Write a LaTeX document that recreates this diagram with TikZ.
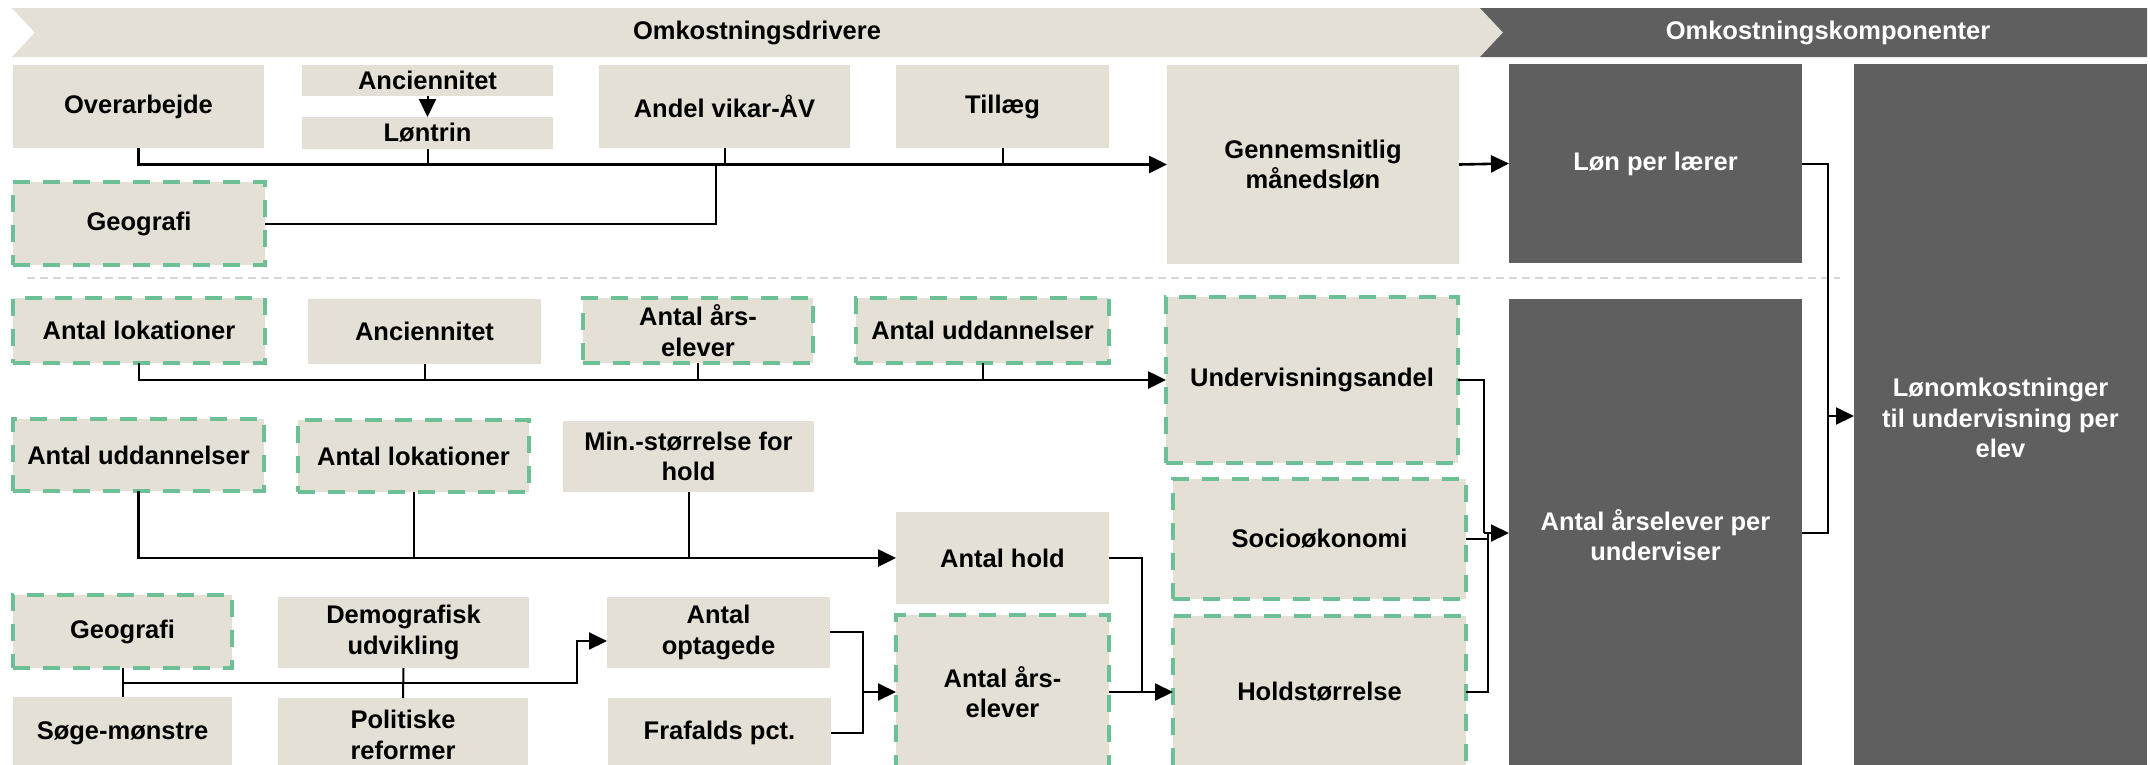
\documentclass[tikz,border=0pt]{standalone}
\usepackage{fontspec}
\setmainfont{Liberation Sans}
\usetikzlibrary{arrows.meta,calc}
\definecolor{beige}{HTML}{E4E0D6}
\definecolor{darkgr}{HTML}{5F5F5F}
\definecolor{greendash}{HTML}{6DBF95}
\definecolor{sepgrey}{HTML}{D6D6D6}
\newcommand{\mybox}[7]{\node[#6, minimum width={(#4-#2)*1pt}, minimum height={(#5-#3)*1pt}] (#1) at ({(#2+#4)/2},{(#3+#5)/2}) {#7};}
\begin{document}
\begin{tikzpicture}[x=1pt,y=-1pt,
  font=\fontsize{25.5pt}{30.5pt}\selectfont\bfseries,
  box/.style={rectangle, fill=beige, inner sep=0pt, outer sep=0pt, align=center, text=black},
  dbox/.style={box, draw=greendash, line width=4pt, dash pattern=on 17pt off 13pt},
  dark/.style={rectangle, fill=darkgr, inner sep=0pt, outer sep=0pt, align=center, text=white},
  conn/.style={draw=black, line width=2pt},
  mainc/.style={draw=black, line width=2.6pt},
  arr/.style={-{Triangle[length=18pt,width=17pt]}},
]
\clip (0,0) rectangle (2150,764);
\fill[white] (0,0) rectangle (2150,764);

% headers
\fill[beige] (12,8) -- (1480,8) -- (1503,32.5) -- (1480,57) -- (12,57) -- (35,32.5) -- cycle;
\fill[darkgr] (1480,8) -- (2147,8) -- (2147,57) -- (1480,57) -- (1503,32.5) -- cycle;
\node[text=black] (h1) at (757,33) {Omkostningsdrivere};
\node[text=white] (h2) at (1828,33) {Omkostningskomponenter};

% separator
\draw[sepgrey, line width=2pt, dash pattern=on 8pt off 5pt] (27,278) -- (1840,278);

% row 1
\mybox{over}{13}{65}{264}{148}{box}{Overarbejde}
\mybox{anca}{302}{65}{553}{96}{box}{Anciennitet}
\mybox{lon}{302}{117}{553}{149}{box}{Løntrin}
\mybox{vikar}{599}{65}{850}{148}{box}{Andel vikar-ÅV}
\mybox{till}{896}{65}{1109}{148}{box}{Tillæg}
\mybox{geoa}{13}{182}{265}{265}{dbox}{Geografi}
\mybox{genn}{1167}{65}{1459}{264}{box}{Gennemsnitlig\\månedsløn}
\mybox{lpl}{1509}{64}{1802}{263}{dark}{Løn per lærer}
\mybox{lonomk}{1854}{64}{2147}{772}{dark}{Lønomkostninger\\til undervisning per\\elev}

% row 2
\mybox{lokb}{13}{298}{265}{363}{dbox}{Antal lokationer}
\mybox{ancb}{308}{299}{541}{364}{box}{Anciennitet}
\mybox{aarsb}{583}{298}{813}{363}{dbox}{Antal års-\\elever}
\mybox{uddb}{856}{298}{1109}{363}{dbox}{Antal uddannelser}
\mybox{underv}{1166}{297}{1458}{463}{dbox}{Undervisningsandel}
\mybox{aeu}{1509}{299}{1802}{771}{dark}{Antal årselever per\\underviser}

% row 3
\mybox{uddc}{13}{419}{264}{491}{dbox}{Antal uddannelser}
\mybox{lokc}{298}{420}{529}{492}{dbox}{Antal lokationer}
\mybox{minst}{563}{421}{814}{492}{box}{Min.-størrelse for\\hold}
\mybox{hold}{896}{512}{1109}{604}{box}{Antal hold}
\mybox{socio}{1173}{479}{1466}{599}{dbox}{Socioøkonomi}
\mybox{holdst}{1173}{616}{1466}{768}{dbox}{Holdstørrelse}

% row 4
\mybox{geod}{13}{595}{232}{668}{dbox}{Geografi}
\mybox{demo}{278}{597}{529}{668}{box}{Demografisk\\udvikling}
\mybox{optag}{607}{597}{830}{668}{box}{Antal\\optagede}
\mybox{soge}{13}{697}{232}{769}{box}{Søge-mønstre}
\mybox{polit}{278}{698}{528}{772}{box}{Politiske\\reformer}
\mybox{fraf}{608}{698}{831}{768}{box}{Frafalds pct.}
\mybox{aarsd}{896}{615}{1109}{769}{dbox}{Antal års-\\elever}

% coordinates
\coordinate (ja) at (716,165);
\coordinate (k) at (1828,416);
\coordinate (ku) at (1484,533);
\coordinate (kh) at (1488,533);
\coordinate (jh) at (1142,692);
\coordinate (jo) at (863,692);
\coordinate (g4) at (122.5,683);
\coordinate (g4e) at (577,683);

% row 1 connectors
\draw[conn, arr] (anca.south) -- (lon.north);
\draw[mainc, arr] (over.south) |- (genn.west);
\draw[conn] (lon.south) -- (lon.south |- genn.west);
\draw[conn] (vikar.south) -- (vikar.south |- genn.west);
\draw[conn] (till.south) -- (till.south |- genn.west);
\draw[conn] (geoa.east) -| (ja);
\draw[mainc, arr] (genn.east) -- (lpl.west);
\draw[conn] (lpl.east) -| (k);
\draw[conn] (aeu.east |- ku) -| (k);
\draw[conn, arr] (k) -- (lonomk.west |- k);

% row 2 connectors
\draw[mainc, arr] (lokb.south) |- (underv.west);
\draw[conn] (ancb.south) -- (ancb.south |- underv.west);
\draw[conn] (aarsb.south) -- (aarsb.south |- underv.west);
\draw[conn] (uddb.south) -- (uddb.south |- underv.west);
\draw[conn] (underv.east) -| (ku);
\draw[conn, arr] (ku) -- (aeu.west |- ku);

% row 3 connectors
\draw[mainc, arr] (uddc.south) |- (hold.west);
\draw[conn] (lokc.south) -- (lokc.south |- hold.west);
\draw[conn] (minst.south) -- (minst.south |- hold.west);
\draw[conn] (hold.east) -| (jh);
\draw[conn, arr] (aarsd.east) -- (holdst.west);
\draw[conn] (socio.east) -- (socio.east -| kh);
\draw[conn] (holdst.east) -| (kh);

% row 4 connectors
\draw[conn] (geod.south) -- (soge.north);
\draw[conn] (demo.south) -- (polit.north);
\draw[conn, arr] (g4) -- (g4e) |- ($(optag.west)+(0,8.5)$);
\draw[conn] (optag.east |- 0,632) -| (jo);
\draw[conn] (fraf.east |- 0,733) -| (jo);
\draw[conn, arr] (jo) -- (aarsd.west |- jo);
\end{tikzpicture}
\end{document}
